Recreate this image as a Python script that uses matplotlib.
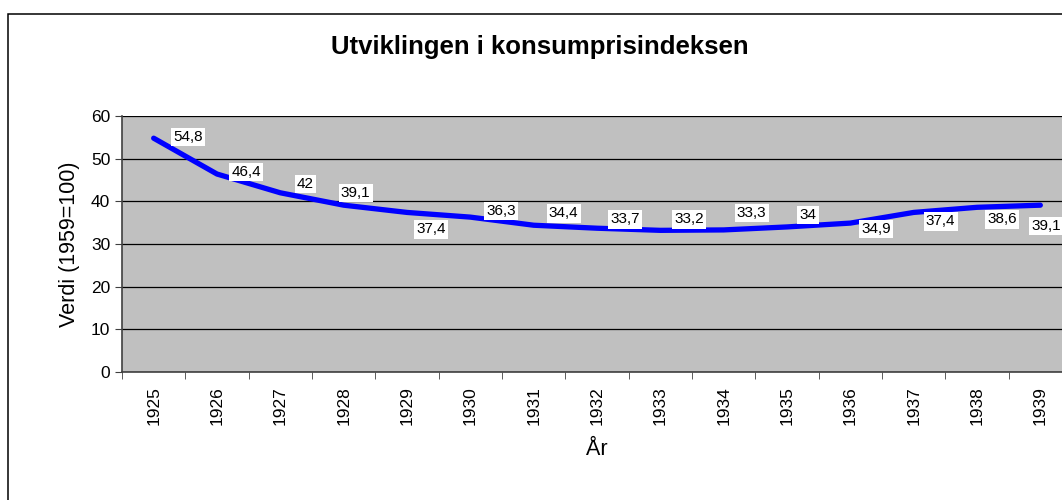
import numpy as np
import matplotlib.pyplot as plt
from matplotlib.patches import Rectangle

plt.rcParams['font.family'] = ['Liberation Sans', 'DejaVu Sans']

# Data
years = ['1925', '1926', '1927', '1928', '1929', '1930', '1931', '1932',
         '1933', '1934', '1935', '1936', '1937', '1938', '1939']
values = [54.8, 46.4, 42, 39.1, 37.4, 36.3, 34.4, 33.7, 33.2, 33.3, 34, 34.9, 37.4, 38.6, 39.1]
value_labels = ['54,8', '46,4', '42', '39,1', '37,4', '36,3', '34,4', '33,7',
                '33,2', '33,3', '34', '34,9', '37,4', '38,6', '39,1']

# label offsets (pixels) as Excel placed them
label_dx = [34, 29, 25, 12, 24, 31, 30, 28, 29, 28, 21, 26, 27, 25, 6]
label_dy = [1, 2, 9, 12, -17, 6, 12, 9, 11, 17, 12, -6, -9, -12, -21]

fig = plt.figure(figsize=(10.62, 5.0), dpi=100)

# chart frame
fig.patches.append(Rectangle((8 / 1062, -0.1), 1.2, (500 - 14) / 500 + 0.1,
                             transform=fig.transFigure, fill=False,
                             edgecolor='black', linewidth=1.1))

ax = fig.add_axes([122 / 1062, 128 / 500, 950 / 1062, 256 / 500])
ax.set_facecolor('#C0C0C0')

x = np.arange(len(years))
ax.plot(x, values, color='#0000FF', linewidth=3.8, solid_capstyle='round',
        solid_joinstyle='round', zorder=3)

for xi, v, lab, dx, dy in zip(x, values, value_labels, label_dx, label_dy):
    ax.annotate(lab, (xi, v), xytext=(dx, dy), textcoords='offset pixels',
                ha='center', va='center', fontsize=11, zorder=4,
                bbox=dict(boxstyle='square,pad=0.15', facecolor='white', edgecolor='none'))

ax.set_xlim(-0.5, len(years) - 0.5)
ax.set_ylim(0, 60)
ax.set_yticks(range(0, 61, 10))
ax.yaxis.grid(True, color='black', linewidth=0.9)
ax.set_axisbelow(True)

ax.set_xticks(x)
ax.set_xticklabels(years, rotation=90)
ax.set_xticks(np.arange(-0.5, len(years)), minor=True)
ax.tick_params(axis='x', which='major', length=0, pad=10, labelsize=12.5)
ax.tick_params(axis='x', which='minor', length=5, color='#404040')
ax.tick_params(axis='y', length=5, color='#404040', labelsize=12.5)

for s in ['top', 'right']:
    ax.spines[s].set_visible(False)
ax.spines['left'].set_color('#404040')
ax.spines['bottom'].set_color('#404040')
ax.spines['left'].set_linewidth(1.2)
ax.spines['bottom'].set_linewidth(1.2)

ax.set_ylabel('Verdi (1959=100)', fontsize=15.5, labelpad=8)
ax.set_xlabel('År', fontsize=15.5, labelpad=10)
fig.text(540 / 1062, 1 - 47 / 500, 'Utviklingen i konsumprisindeksen',
         ha='center', va='center', fontsize=18.5, fontweight='bold')

plt.savefig('out.png', dpi=100)
